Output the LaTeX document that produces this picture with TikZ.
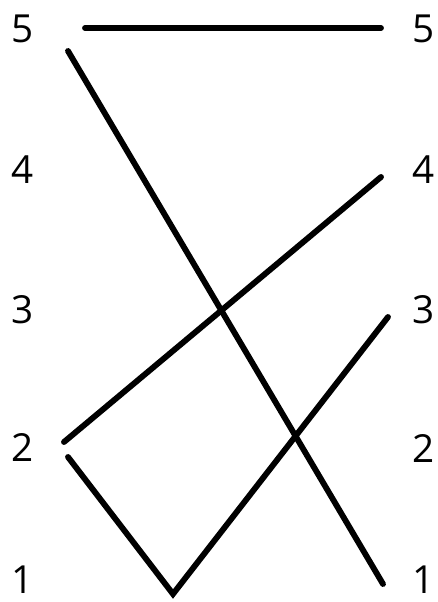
\documentclass[tikz,border=0pt]{standalone}
\usepackage{fontspec}
\setmainfont{Open Sans}
\usepackage{tikz}
\usetikzlibrary{positioning}

\begin{document}
\begin{tikzpicture}[x=0.03cm, y=-0.03cm,
    num/.style={font=\fontsize{33}{36}\selectfont, inner sep=0pt, text depth=0pt},
    link/.style={line width=5pt, line cap=round}]
  \useasboundingbox (0,0) rectangle (438,602);
  % left column
  \node[num] (l5) at (23,29) {5};
  \node[num] (l4) at (23,170) {4};
  \node[num] (l3) at (23,309) {3};
  \node[num] (l2) at (23,447) {2};
  \node[num] (l1) at (23,580) {1};
  % right column
  \node[num] (r5) at (424,29) {5};
  \node[num] (r4) at (424,170) {4};
  \node[num] (r3) at (424,309) {3};
  \node[num] (r2) at (424,448) {2};
  \node[num] (r1) at (424,580) {1};
  % line ends
  \coordinate (a5) at (85,28);
  \coordinate (b5) at (381,28);
  \coordinate (a5d) at (68,51);
  \coordinate (b1) at (383,584);
  \coordinate (a2u) at (64,442);
  \coordinate (b4) at (381,177);
  \coordinate (a2d) at (68,457);
  \coordinate (v) at (173,594);
  \coordinate (b3) at (388,317);
  \draw[link] (a5) -- (b5);
  \draw[link] (a5d) -- (b1);
  \draw[link] (a2u) -- (b4);
  \draw[link, line join=miter] (a2d) -- (v) -- (b3);
\end{tikzpicture}
\end{document}
